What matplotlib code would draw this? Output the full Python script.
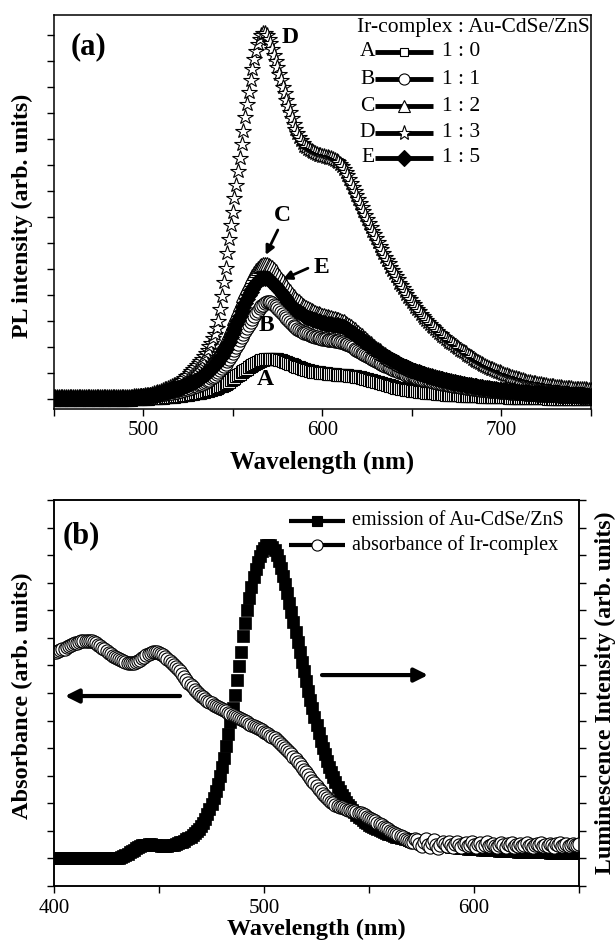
import matplotlib
matplotlib.use("Agg")
import matplotlib.pyplot as plt

plt.rcParams['font.family'] = ['Liberation Serif', 'DejaVu Serif']
plt.rcParams['axes.linewidth'] = 1.1

# ---------------- (a) PL spectra, Ir-complex : Au-CdSe/ZnS ----------------
wl_pl = list(range(450, 751))

pl_A = [
    -0.03, -0.03, -0.03, -0.03, -0.03, -0.03, -0.03, -0.03, -0.03, -0.03,
    -0.03, -0.03, -0.03, -0.03, -0.03, -0.03, -0.03, -0.03, -0.03, -0.03,
    -0.03, -0.03, -0.03, -0.03, -0.03, -0.03, -0.03, -0.03, -0.03, -0.03,
    -0.03, -0.03, -0.03, -0.03, -0.03, -0.03, -0.03, -0.03, -0.03, -0.03,
    -0.03, -0.03, -0.03, -0.03, -0.02, -0.02, -0.02, -0.02, -0.01, -0.01,
    0.00, 0.00, 0.01, 0.01, 0.02, 0.02, 0.03, 0.03, 0.04, 0.04,
    0.05, 0.05, 0.06, 0.06, 0.07, 0.07, 0.08, 0.09, 0.10, 0.11,
    0.12, 0.13, 0.14, 0.15, 0.16, 0.17, 0.18, 0.19, 0.20, 0.21,
    0.22, 0.23, 0.24, 0.25, 0.27, 0.29, 0.31, 0.33, 0.35, 0.37,
    0.39, 0.42, 0.45, 0.48, 0.51, 0.55, 0.59, 0.63, 0.67, 0.72,
    0.77, 0.82, 0.87, 0.92, 0.97, 1.02, 1.07, 1.12, 1.17, 1.22,
    1.27, 1.31, 1.35, 1.39, 1.43, 1.46, 1.49, 1.51, 1.53, 1.54,
    1.55, 1.55, 1.55, 1.54, 1.53, 1.52, 1.50, 1.48, 1.46, 1.44,
    1.42, 1.39, 1.36, 1.33, 1.30, 1.27, 1.24, 1.21, 1.18, 1.16,
    1.14, 1.12, 1.10, 1.08, 1.06, 1.05, 1.04, 1.03, 1.02, 1.01,
    1.00, 0.99, 0.98, 0.97, 0.96, 0.96, 0.95, 0.95, 0.94, 0.94,
    0.93, 0.93, 0.92, 0.92, 0.91, 0.90, 0.89, 0.88, 0.87, 0.86,
    0.85, 0.84, 0.82, 0.80, 0.78, 0.76, 0.74, 0.72, 0.70, 0.68,
    0.66, 0.64, 0.62, 0.60, 0.58, 0.56, 0.54, 0.52, 0.50, 0.48,
    0.46, 0.44, 0.43, 0.41, 0.40, 0.38, 0.37, 0.36, 0.34, 0.33,
    0.32, 0.31, 0.30, 0.29, 0.28, 0.27, 0.26, 0.25, 0.24, 0.23,
    0.23, 0.22, 0.21, 0.21, 0.20, 0.19, 0.19, 0.18, 0.18, 0.17,
    0.17, 0.16, 0.16, 0.15, 0.15, 0.14, 0.14, 0.14, 0.13, 0.13,
    0.12, 0.12, 0.12, 0.11, 0.11, 0.11, 0.10, 0.10, 0.10, 0.09,
    0.09, 0.09, 0.09, 0.08, 0.08, 0.08, 0.07, 0.07, 0.07, 0.07,
    0.06, 0.06, 0.06, 0.06, 0.05, 0.05, 0.05, 0.05, 0.05, 0.04,
    0.04, 0.04, 0.04, 0.04, 0.03, 0.03, 0.03, 0.03, 0.03, 0.03,
    0.02, 0.02, 0.02, 0.02, 0.02, 0.02, 0.01, 0.01, 0.01, 0.01,
    0.01, 0.01, 0.01, 0.00, 0.00, 0.00, 0.00, 0.00, 0.00, 0.00,
    -0.01, -0.01, -0.01, -0.01, -0.01, -0.01, -0.01, -0.01, -0.01, -0.01, -0.01,
]

pl_B = [
    0.00, 0.00, 0.00, 0.00, 0.00, 0.00, 0.00, 0.00, 0.00, 0.00,
    0.00, 0.00, 0.00, 0.00, 0.00, 0.00, 0.00, 0.00, 0.00, 0.00,
    0.00, 0.00, 0.00, 0.00, 0.00, 0.00, 0.00, 0.00, 0.00, 0.00,
    0.00, 0.00, 0.00, 0.00, 0.00, 0.00, 0.00, 0.00, 0.00, 0.00,
    0.00, 0.01, 0.01, 0.02, 0.02, 0.03, 0.04, 0.05, 0.06, 0.07,
    0.08, 0.09, 0.10, 0.11, 0.12, 0.13, 0.14, 0.15, 0.16, 0.17,
    0.18, 0.19, 0.20, 0.21, 0.22, 0.23, 0.24, 0.25, 0.26, 0.28,
    0.30, 0.32, 0.34, 0.36, 0.38, 0.40, 0.42, 0.44, 0.46, 0.48,
    0.50, 0.53, 0.56, 0.59, 0.62, 0.66, 0.70, 0.74, 0.79, 0.84,
    0.90, 0.96, 1.03, 1.10, 1.18, 1.26, 1.35, 1.45, 1.55, 1.66,
    1.77, 1.89, 2.01, 2.13, 2.25, 2.37, 2.49, 2.61, 2.73, 2.85,
    2.97, 3.08, 3.19, 3.29, 3.39, 3.48, 3.56, 3.63, 3.69, 3.73,
    3.74, 3.72, 3.68, 3.63, 3.57, 3.50, 3.43, 3.35, 3.27, 3.19,
    3.11, 3.03, 2.96, 2.89, 2.82, 2.76, 2.71, 2.66, 2.62, 2.58,
    2.55, 2.52, 2.49, 2.46, 2.44, 2.42, 2.40, 2.38, 2.36, 2.34,
    2.32, 2.31, 2.29, 2.28, 2.27, 2.26, 2.25, 2.24, 2.23, 2.22,
    2.20, 2.18, 2.16, 2.13, 2.10, 2.06, 2.02, 1.98, 1.94, 1.90,
    1.86, 1.82, 1.78, 1.74, 1.70, 1.66, 1.62, 1.58, 1.54, 1.50,
    1.46, 1.42, 1.38, 1.35, 1.31, 1.28, 1.25, 1.22, 1.19, 1.16,
    1.13, 1.10, 1.07, 1.04, 1.02, 0.99, 0.97, 0.94, 0.92, 0.90,
    0.88, 0.86, 0.84, 0.82, 0.80, 0.78, 0.76, 0.74, 0.73, 0.71,
    0.69, 0.68, 0.66, 0.65, 0.63, 0.62, 0.60, 0.59, 0.58, 0.56,
    0.55, 0.54, 0.53, 0.51, 0.50, 0.49, 0.48, 0.47, 0.46, 0.45,
    0.44, 0.43, 0.42, 0.41, 0.40, 0.39, 0.38, 0.37, 0.36, 0.35,
    0.35, 0.34, 0.33, 0.32, 0.31, 0.31, 0.30, 0.29, 0.29, 0.28,
    0.27, 0.27, 0.26, 0.25, 0.25, 0.24, 0.24, 0.23, 0.23, 0.22,
    0.22, 0.21, 0.21, 0.20, 0.20, 0.19, 0.19, 0.19, 0.18, 0.18,
    0.17, 0.17, 0.17, 0.16, 0.16, 0.16, 0.15, 0.15, 0.15, 0.14,
    0.14, 0.14, 0.13, 0.13, 0.13, 0.13, 0.12, 0.12, 0.12, 0.12,
    0.11, 0.11, 0.11, 0.11, 0.10, 0.10, 0.10, 0.10, 0.10, 0.09, 0.09,
]

pl_C = [
    0.05, 0.05, 0.05, 0.05, 0.05, 0.05, 0.05, 0.05, 0.05, 0.05,
    0.05, 0.05, 0.05, 0.05, 0.05, 0.05, 0.05, 0.05, 0.05, 0.05,
    0.05, 0.05, 0.05, 0.05, 0.05, 0.05, 0.05, 0.05, 0.05, 0.05,
    0.05, 0.05, 0.05, 0.05, 0.05, 0.05, 0.05, 0.05, 0.05, 0.05,
    0.05, 0.06, 0.06, 0.07, 0.07, 0.08, 0.09, 0.10, 0.11, 0.12,
    0.13, 0.14, 0.15, 0.16, 0.17, 0.18, 0.20, 0.22, 0.24, 0.26,
    0.28, 0.30, 0.32, 0.34, 0.36, 0.38, 0.40, 0.42, 0.44, 0.47,
    0.50, 0.53, 0.56, 0.59, 0.62, 0.66, 0.70, 0.74, 0.78, 0.82,
    0.87, 0.92, 0.97, 1.03, 1.09, 1.15, 1.22, 1.30, 1.38, 1.47,
    1.56, 1.66, 1.77, 1.88, 2.00, 2.13, 2.27, 2.42, 2.58, 2.75,
    2.92, 3.10, 3.28, 3.46, 3.64, 3.81, 3.98, 4.15, 4.31, 4.47,
    4.61, 4.74, 4.86, 4.96, 5.05, 5.12, 5.17, 5.20, 5.21, 5.20,
    5.17, 5.12, 5.06, 4.99, 4.91, 4.82, 4.73, 4.63, 4.53, 4.43,
    4.33, 4.23, 4.14, 4.05, 3.97, 3.89, 3.82, 3.75, 3.69, 3.63,
    3.58, 3.53, 3.49, 3.45, 3.41, 3.38, 3.35, 3.32, 3.29, 3.27,
    3.24, 3.22, 3.20, 3.18, 3.16, 3.14, 3.12, 3.10, 3.08, 3.06,
    3.04, 3.01, 2.98, 2.94, 2.90, 2.85, 2.80, 2.74, 2.69, 2.63,
    2.57, 2.51, 2.45, 2.39, 2.33, 2.27, 2.21, 2.15, 2.09, 2.03,
    1.97, 1.92, 1.87, 1.82, 1.77, 1.72, 1.67, 1.62, 1.58, 1.54,
    1.50, 1.46, 1.42, 1.38, 1.34, 1.31, 1.28, 1.25, 1.22, 1.19,
    1.16, 1.13, 1.11, 1.08, 1.06, 1.03, 1.01, 0.99, 0.97, 0.95,
    0.93, 0.91, 0.89, 0.87, 0.85, 0.83, 0.81, 0.79, 0.78, 0.76,
    0.74, 0.72, 0.71, 0.69, 0.68, 0.66, 0.65, 0.63, 0.62, 0.61,
    0.59, 0.58, 0.57, 0.55, 0.54, 0.53, 0.52, 0.50, 0.49, 0.48,
    0.47, 0.46, 0.45, 0.44, 0.43, 0.42, 0.41, 0.40, 0.39, 0.38,
    0.37, 0.36, 0.35, 0.35, 0.34, 0.33, 0.32, 0.31, 0.31, 0.30,
    0.29, 0.29, 0.28, 0.27, 0.27, 0.26, 0.25, 0.25, 0.24, 0.24,
    0.23, 0.23, 0.22, 0.22, 0.21, 0.21, 0.20, 0.20, 0.19, 0.19,
    0.18, 0.18, 0.18, 0.17, 0.17, 0.16, 0.16, 0.16, 0.15, 0.15,
    0.15, 0.14, 0.14, 0.14, 0.13, 0.13, 0.13, 0.12, 0.12, 0.12, 0.12,
]

pl_D = [
    0.08, 0.08, 0.08, 0.08, 0.08, 0.08, 0.08, 0.08, 0.08, 0.08,
    0.08, 0.08, 0.08, 0.08, 0.08, 0.08, 0.08, 0.08, 0.08, 0.08,
    0.08, 0.08, 0.08, 0.08, 0.08, 0.08, 0.08, 0.08, 0.08, 0.08,
    0.08, 0.08, 0.08, 0.08, 0.08, 0.08, 0.08, 0.08, 0.08, 0.08,
    0.08, 0.08, 0.09, 0.09, 0.09, 0.10, 0.10, 0.11, 0.11, 0.12,
    0.13, 0.14, 0.15, 0.16, 0.17, 0.19, 0.21, 0.23, 0.25, 0.28,
    0.31, 0.34, 0.37, 0.40, 0.43, 0.46, 0.49, 0.52, 0.55, 0.58,
    0.62, 0.68, 0.74, 0.80, 0.87, 0.94, 1.00, 1.08, 1.15, 1.22,
    1.30, 1.38, 1.46, 1.55, 1.65, 1.76, 1.88, 2.02, 2.17, 2.33,
    2.50, 2.72, 3.00, 3.45, 3.95, 4.50, 5.05, 5.60, 6.15, 6.70,
    7.20, 7.72, 8.24, 8.76, 9.28, 9.80, 10.32, 10.84, 11.34, 11.82,
    12.28, 12.70, 13.08, 13.40, 13.66, 13.86, 14.00, 14.08, 14.08, 14.00,
    13.86, 13.68, 13.47, 13.24, 13.00, 12.76, 12.52, 12.27, 12.02, 11.77,
    11.52, 11.27, 11.03, 10.80, 10.59, 10.40, 10.23, 10.08, 9.95, 9.84,
    9.75, 9.68, 9.62, 9.57, 9.53, 9.49, 9.46, 9.43, 9.40, 9.38,
    9.36, 9.34, 9.32, 9.30, 9.28, 9.26, 9.23, 9.20, 9.16, 9.11,
    9.04, 8.96, 8.86, 8.74, 8.60, 8.46, 8.31, 8.16, 8.00, 7.84,
    7.68, 7.53, 7.38, 7.23, 7.08, 6.93, 6.78, 6.63, 6.48, 6.33,
    6.18, 6.04, 5.90, 5.76, 5.62, 5.48, 5.35, 5.22, 5.09, 4.96,
    4.84, 4.72, 4.60, 4.48, 4.37, 4.26, 4.15, 4.04, 3.94, 3.84,
    3.74, 3.64, 3.55, 3.46, 3.37, 3.28, 3.20, 3.12, 3.04, 2.96,
    2.89, 2.82, 2.75, 2.68, 2.61, 2.55, 2.49, 2.43, 2.37, 2.31,
    2.25, 2.20, 2.15, 2.10, 2.05, 2.00, 1.95, 1.90, 1.85, 1.80,
    1.75, 1.70, 1.65, 1.60, 1.55, 1.51, 1.47, 1.43, 1.39, 1.35,
    1.31, 1.27, 1.24, 1.20, 1.17, 1.14, 1.11, 1.08, 1.05, 1.02,
    0.99, 0.96, 0.93, 0.91, 0.88, 0.86, 0.84, 0.81, 0.79, 0.77,
    0.75, 0.73, 0.71, 0.69, 0.67, 0.66, 0.64, 0.63, 0.61, 0.60,
    0.58, 0.57, 0.56, 0.55, 0.53, 0.52, 0.51, 0.50, 0.49, 0.48,
    0.47, 0.46, 0.46, 0.45, 0.44, 0.43, 0.43, 0.42, 0.41, 0.41,
    0.40, 0.40, 0.39, 0.39, 0.38, 0.38, 0.37, 0.37, 0.36, 0.36, 0.35,
]

pl_E = [
    0.02, 0.02, 0.02, 0.02, 0.02, 0.02, 0.02, 0.02, 0.02, 0.02,
    0.02, 0.02, 0.02, 0.02, 0.02, 0.02, 0.02, 0.02, 0.02, 0.02,
    0.02, 0.02, 0.02, 0.02, 0.02, 0.02, 0.02, 0.02, 0.02, 0.02,
    0.02, 0.02, 0.02, 0.02, 0.02, 0.02, 0.02, 0.02, 0.02, 0.02,
    0.03, 0.03, 0.04, 0.04, 0.05, 0.06, 0.07, 0.08, 0.09, 0.10,
    0.10, 0.11, 0.12, 0.13, 0.14, 0.15, 0.16, 0.17, 0.19, 0.21,
    0.23, 0.25, 0.27, 0.29, 0.31, 0.33, 0.35, 0.37, 0.39, 0.41,
    0.43, 0.46, 0.49, 0.52, 0.55, 0.58, 0.61, 0.64, 0.67, 0.70,
    0.74, 0.78, 0.82, 0.87, 0.92, 0.97, 1.02, 1.08, 1.14, 1.21,
    1.29, 1.37, 1.46, 1.56, 1.67, 1.79, 1.92, 2.06, 2.21, 2.37,
    2.53, 2.70, 2.87, 3.04, 3.21, 3.38, 3.54, 3.70, 3.85, 3.99,
    4.12, 4.24, 4.35, 4.45, 4.53, 4.60, 4.64, 4.66, 4.66, 4.64,
    4.60, 4.55, 4.49, 4.42, 4.35, 4.27, 4.19, 4.10, 4.01, 3.92,
    3.83, 3.74, 3.66, 3.58, 3.51, 3.45, 3.39, 3.34, 3.29, 3.25,
    3.21, 3.17, 3.13, 3.10, 3.07, 3.04, 3.02, 3.00, 2.98, 2.96,
    2.94, 2.92, 2.90, 2.89, 2.88, 2.87, 2.86, 2.85, 2.84, 2.83,
    2.81, 2.79, 2.76, 2.72, 2.68, 2.64, 2.59, 2.54, 2.49, 2.44,
    2.39, 2.34, 2.29, 2.24, 2.19, 2.14, 2.09, 2.04, 1.99, 1.94,
    1.89, 1.84, 1.79, 1.74, 1.70, 1.65, 1.61, 1.57, 1.53, 1.49,
    1.45, 1.41, 1.38, 1.34, 1.31, 1.27, 1.24, 1.21, 1.18, 1.15,
    1.12, 1.09, 1.07, 1.04, 1.02, 0.99, 0.97, 0.95, 0.92, 0.90,
    0.88, 0.86, 0.84, 0.82, 0.80, 0.78, 0.77, 0.75, 0.73, 0.72,
    0.70, 0.68, 0.67, 0.65, 0.64, 0.62, 0.61, 0.60, 0.58, 0.57,
    0.55, 0.54, 0.53, 0.52, 0.51, 0.50, 0.48, 0.47, 0.46, 0.45,
    0.44, 0.43, 0.42, 0.41, 0.40, 0.39, 0.38, 0.37, 0.36, 0.35,
    0.34, 0.33, 0.33, 0.32, 0.31, 0.30, 0.30, 0.29, 0.28, 0.28,
    0.27, 0.27, 0.26, 0.26, 0.25, 0.25, 0.24, 0.24, 0.23, 0.23,
    0.22, 0.22, 0.21, 0.21, 0.20, 0.20, 0.20, 0.19, 0.19, 0.18,
    0.18, 0.18, 0.17, 0.17, 0.16, 0.16, 0.16, 0.15, 0.15, 0.15,
    0.14, 0.14, 0.14, 0.13, 0.13, 0.13, 0.12, 0.12, 0.12, 0.12, 0.11,
]

curve_letters = ['A', 'B', 'C', 'D', 'E']
ratio_labels = ['1 : 0', '1 : 1', '1 : 2', '1 : 3', '1 : 5']
legend_title_a = 'Ir-complex : Au-CdSe/ZnS'

# ---------------- (b) emission of QDs vs. absorbance of Ir-complex ----------------
wl_b = list(range(400, 651))

emission = [
    1.00, 1.00, 1.00, 1.00, 1.00, 1.00, 1.00, 1.00, 1.00, 1.00,
    1.00, 1.00, 1.00, 1.00, 1.00, 1.00, 1.00, 1.00, 1.00, 1.00,
    1.00, 1.00, 1.00, 1.00, 1.00, 1.00, 1.00, 1.00, 1.00, 1.00,
    1.01, 1.03, 1.05, 1.08, 1.12, 1.17, 1.22, 1.27, 1.32, 1.37,
    1.41, 1.44, 1.47, 1.49, 1.50, 1.51, 1.51, 1.50, 1.49, 1.48,
    1.47, 1.46, 1.46, 1.46, 1.46, 1.47, 1.48, 1.50, 1.52, 1.55,
    1.58, 1.61, 1.65, 1.69, 1.73, 1.78, 1.84, 1.91, 1.99, 2.08,
    2.18, 2.30, 2.44, 2.60, 2.78, 2.98, 3.20, 3.44, 3.70, 3.98,
    4.30, 4.66, 5.06, 5.50, 5.96, 6.44, 6.94, 7.46, 7.98, 8.50,
    9.05, 9.55, 10.02, 10.45, 10.84, 11.19, 11.50, 11.76, 11.97, 12.14,
    12.27, 12.35, 12.38, 12.36, 12.29, 12.17, 12.00, 11.79, 11.54, 11.26,
    10.95, 10.62, 10.28, 9.93, 9.57, 9.21, 8.85, 8.49, 8.13, 7.78,
    7.43, 7.09, 6.76, 6.44, 6.13, 5.83, 5.54, 5.27, 5.01, 4.77,
    4.54, 4.33, 4.13, 3.94, 3.76, 3.60, 3.45, 3.31, 3.18, 3.06,
    2.95, 2.85, 2.76, 2.67, 2.59, 2.52, 2.45, 2.39, 2.33, 2.28,
    2.23, 2.18, 2.14, 2.10, 2.06, 2.02, 1.99, 1.96, 1.93, 1.90,
    1.87, 1.84, 1.81, 1.79, 1.77, 1.75, 1.73, 1.71, 1.69, 1.67,
    1.65, 1.63, 1.62, 1.60, 1.59, 1.57, 1.56, 1.55, 1.54, 1.53,
    1.52, 1.51, 1.50, 1.49, 1.48, 1.47, 1.46, 1.45, 1.44, 1.43,
    1.42, 1.41, 1.40, 1.39, 1.39, 1.38, 1.37, 1.36, 1.36, 1.35,
    1.34, 1.34, 1.33, 1.33, 1.32, 1.32, 1.31, 1.31, 1.30, 1.30,
    1.29, 1.29, 1.28, 1.28, 1.28, 1.27, 1.27, 1.27, 1.26, 1.26,
    1.26, 1.25, 1.25, 1.25, 1.24, 1.24, 1.24, 1.24, 1.23, 1.23,
    1.23, 1.23, 1.22, 1.22, 1.22, 1.22, 1.21, 1.21, 1.21, 1.21,
    1.21, 1.20, 1.20, 1.20, 1.20, 1.20, 1.20, 1.19, 1.19, 1.19, 1.19,
]

absorbance = [
    8.48, 8.50, 8.53, 8.55, 8.58, 8.61, 8.65, 8.69, 8.73, 8.77,
    8.80, 8.83, 8.86, 8.88, 8.89, 8.90, 8.90, 8.89, 8.87, 8.84,
    8.80, 8.75, 8.70, 8.64, 8.58, 8.52, 8.46, 8.40, 8.35, 8.30,
    8.26, 8.22, 8.18, 8.15, 8.12, 8.10, 8.09, 8.08, 8.09, 8.11,
    8.15, 8.20, 8.26, 8.32, 8.38, 8.42, 8.45, 8.47, 8.48, 8.47,
    8.45, 8.41, 8.36, 8.30, 8.23, 8.16, 8.09, 8.02, 7.95, 7.87,
    7.78, 7.68, 7.58, 7.48, 7.38, 7.29, 7.20, 7.12, 7.04, 6.97,
    6.90, 6.84, 6.78, 6.72, 6.67, 6.62, 6.57, 6.53, 6.49, 6.45,
    6.41, 6.37, 6.33, 6.29, 6.25, 6.21, 6.17, 6.13, 6.09, 6.05,
    6.01, 5.97, 5.93, 5.89, 5.85, 5.81, 5.77, 5.73, 5.69, 5.65,
    5.60, 5.55, 5.50, 5.45, 5.40, 5.35, 5.29, 5.23, 5.16, 5.09,
    5.01, 4.93, 4.85, 4.77, 4.69, 4.60, 4.51, 4.42, 4.32, 4.22,
    4.12, 4.02, 3.92, 3.82, 3.72, 3.62, 3.53, 3.44, 3.35, 3.26,
    3.18, 3.11, 3.05, 3.00, 2.95, 2.91, 2.88, 2.85, 2.82, 2.79,
    2.77, 2.75, 2.73, 2.71, 2.69, 2.66, 2.63, 2.60, 2.56, 2.52,
    2.48, 2.44, 2.40, 2.35, 2.30, 2.25, 2.20, 2.15, 2.10, 2.05,
    2.00, 1.96, 1.92, 1.88, 1.84, 1.80, 1.76, 1.72, 1.68, 1.64,
    1.60, 1.58, 1.72, 1.66, 1.52, 1.46, 1.60, 1.70, 1.48, 1.42,
    1.55, 1.66, 1.50, 1.38, 1.47, 1.60, 1.52, 1.44, 1.58, 1.50,
    1.42, 1.53, 1.61, 1.47, 1.40, 1.52, 1.56, 1.45, 1.50, 1.60,
    1.48, 1.41, 1.52, 1.55, 1.46, 1.50, 1.58, 1.44, 1.49, 1.53,
    1.45, 1.40, 1.50, 1.56, 1.48, 1.43, 1.52, 1.47, 1.55, 1.41,
    1.50, 1.46, 1.53, 1.44, 1.49, 1.57, 1.45, 1.50, 1.42, 1.48,
    1.52, 1.47, 1.55, 1.44, 1.50, 1.46, 1.53, 1.49, 1.43, 1.51,
    1.48, 1.56, 1.45, 1.50, 1.53, 1.44, 1.49, 1.54, 1.47, 1.50, 1.52,
]

legend_labels_b = ['emission of Au-CdSe/ZnS', 'absorbance of Ir-complex']

# ---------------- figure ----------------
fig = plt.figure(figsize=(6.16, 9.46), dpi=100)

TICK_FS = 15
LABEL_FS = 17.5
NOTE_FS = 17

# ---- panel (a) ----
ax1 = fig.add_axes([0.0869, 0.5677, 0.8725, 0.4164])

marker_styles = [
    dict(marker='s', ms=8.0, mfc='white', mec='black', mew=0.8),
    dict(marker='o', ms=9.5, mfc='white', mec='black', mew=0.8),
    dict(marker='^', ms=9.5, mfc='white', mec='black', mew=0.8),
    dict(marker='*', ms=11.5, mfc='white', mec='black', mew=0.8),
    dict(marker='D', ms=8.5, mfc='black', mec='black', mew=0.6),
]
for yvals, st in zip([pl_A, pl_B, pl_C, pl_D, pl_E], marker_styles):
    ax1.plot(wl_pl, yvals, linestyle='none', **st)

ax1.set_xlim(450, 750)
ax1.set_ylim(-0.385, 14.77)
ax1.set_xticks([500, 600, 700])
ax1.set_xticks([450, 550, 650, 750], minor=True)
ax1.set_yticks(range(0, 15))
ax1.tick_params(axis='both', which='both', direction='out', length=5, width=1,
                top=False, right=False, labelleft=False, labelsize=TICK_FS, pad=4)
ax1.set_xlabel('Wavelength (nm)', fontsize=18, fontweight='bold', va='center')
ax1.xaxis.set_label_coords(0.5, -0.135)
ax1.set_ylabel('PL intensity (arb. units)', fontsize=17.3, fontweight='bold', va='center')
ax1.yaxis.set_label_coords(-0.057, 0.489)

ax1.text(0.065, 0.92, '(a)', transform=ax1.transAxes, fontsize=22, fontweight='bold',
         ha='center', va='center')

# curve letters with arrows
ax1.text(582.3, 13.9, 'D', fontsize=NOTE_FS, fontweight='bold', ha='center', va='center')
ax1.text(577.9, 7.05, 'C', fontsize=NOTE_FS, fontweight='bold', ha='center', va='center')
ax1.text(599.5, 5.04, 'E', fontsize=NOTE_FS, fontweight='bold', ha='center', va='center')
ax1.text(568.9, 2.81, 'B', fontsize=NOTE_FS, fontweight='bold', ha='center', va='center')
ax1.text(568.4, 0.73, 'A', fontsize=NOTE_FS, fontweight='bold', ha='center', va='center')
arrow_a = dict(arrowstyle='-|>', lw=2.0, color='black', mutation_scale=13,
               shrinkA=0, shrinkB=0)
ax1.annotate('', xy=(568.4, 5.54), xytext=(575.2, 6.5), arrowprops=arrow_a)
ax1.annotate('', xy=(578.0, 4.6), xytext=(592.0, 5.03), arrowprops=arrow_a)

# legend block
leg_rows_y = [0.9069, 0.8368, 0.7690, 0.7013, 0.6378]
legend_marker_styles = [
    dict(marker='s', ms=6.0, mfc='white', mec='black', mew=0.8),
    dict(marker='o', ms=8.0, mfc='white', mec='black', mew=0.8),
    dict(marker='^', ms=9.0, mfc='white', mec='black', mew=0.8),
    dict(marker='*', ms=11.0, mfc='white', mec='black', mew=0.8),
    dict(marker='D', ms=8.0, mfc='black', mec='black', mew=0.8),
]
ax1.text(0.5647, 0.9683, legend_title_a, transform=ax1.transAxes, fontsize=15.5,
         ha='left', va='center')
for yy, letter, lab, st in zip(leg_rows_y, curve_letters, ratio_labels, legend_marker_styles):
    ax1.plot([0.598, 0.7066], [yy, yy], transform=ax1.transAxes, color='black',
             lw=3.5, solid_capstyle='butt', clip_on=False)
    ax1.plot([0.652], [yy], transform=ax1.transAxes, linestyle='none',
             clip_on=False, **st)
    ax1.text(0.598, yy, letter, transform=ax1.transAxes, fontsize=15.5,
             ha='right', va='center')
    ax1.text(0.7228, yy, lab, transform=ax1.transAxes, fontsize=15.5,
             ha='left', va='center')

# ---- panel (b) ----
ax2 = fig.add_axes([0.0877, 0.0634, 0.8523, 0.4081])
ax2r = ax2.twinx()
ax2.set_zorder(ax2r.get_zorder() + 1)
ax2.patch.set_visible(False)

ax2r.plot(wl_b, emission, linestyle='none', marker='s', ms=8.5, mfc='black',
          mec='black', mew=0.5)
ax2.plot(wl_b, absorbance, linestyle='none', marker='o', ms=9.5, mfc='white',
         mec='black', mew=0.8)

for a in (ax2, ax2r):
    a.set_ylim(0, 14)
    a.set_yticks(range(0, 15))
ax2.set_xlim(400, 650)
ax2.set_xticks([400, 500, 600])
ax2.set_xticks([450, 550, 650], minor=True)
ax2.tick_params(axis='both', which='both', direction='out', length=5, width=1,
                top=False, right=False, labelleft=False, labelsize=TICK_FS, pad=4)
ax2r.tick_params(axis='y', which='both', direction='out', length=5, width=1,
                 labelright=False)

ax2.set_xlabel('Wavelength (nm)', fontsize=17.5, fontweight='bold', va='center')
ax2.xaxis.set_label_coords(0.5, -0.113)
ax2.set_ylabel('Absorbance (arb. units)', fontsize=LABEL_FS, fontweight='bold', va='center')
ax2.yaxis.set_label_coords(-0.061, 0.492)
ax2r.set_ylabel('Luminescence Intensity (arb. units)', fontsize=17.2,
                fontweight='bold', va='center')
ax2r.yaxis.set_label_coords(1.0495, 0.5)

ax2.text(0.052, 0.907, '(b)', transform=ax2.transAxes, fontsize=22, fontweight='bold',
         ha='center', va='center')

arrow_b = dict(arrowstyle='-|>', lw=3.0, color='black', mutation_scale=20,
               shrinkA=0, shrinkB=0)
ax2.annotate('', xy=(405.2, 6.89), xytext=(460.0, 6.89), arrowprops=arrow_b)
ax2.annotate('', xy=(578.1, 7.65), xytext=(527.6, 7.65), arrowprops=arrow_b)

leg_b_y = [0.9456, 0.8834]
leg_b_styles = [
    dict(marker='s', ms=7.0, mfc='black', mec='black', mew=0.8),
    dict(marker='o', ms=8.0, mfc='white', mec='black', mew=0.8),
]
for yy, lab, st in zip(leg_b_y, legend_labels_b, leg_b_styles):
    ax2.plot([0.4476, 0.5543], [yy, yy], transform=ax2.transAxes, color='black',
             lw=3.0, solid_capstyle='butt', clip_on=False)
    ax2.plot([0.50], [yy], transform=ax2.transAxes, linestyle='none',
             clip_on=False, **st)
    ax2.text(0.5676, yy, lab, transform=ax2.transAxes, fontsize=14.5,
             ha='left', va='center')

fig.savefig('out.png', dpi=100)
